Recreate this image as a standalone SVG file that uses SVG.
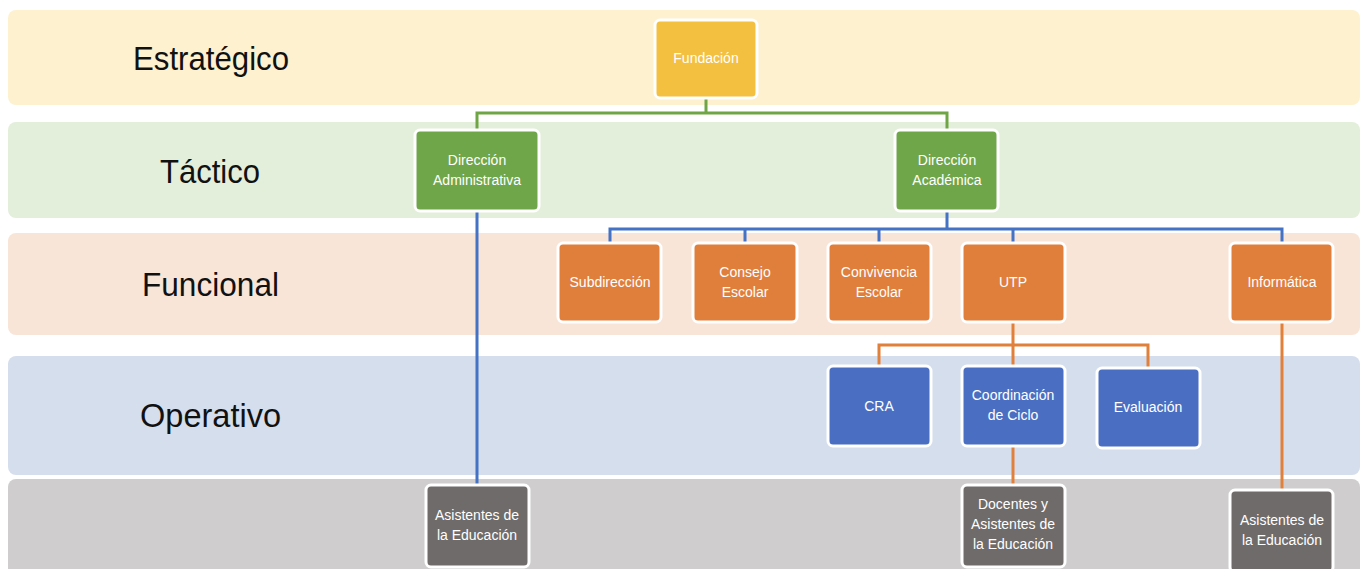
<svg xmlns="http://www.w3.org/2000/svg" width="1368" height="569" viewBox="0 0 1368 569">
<style>
.band{stroke:none}
.lvl{font-family:"Liberation Sans",Arial,sans-serif;font-size:33px;fill:#111}
.box{stroke:#fff;stroke-width:3}
.t{font-family:"Liberation Sans",Arial,sans-serif;font-size:14px;fill:#fff;text-anchor:middle}
.c{fill:none;stroke-width:3}
</style>
<rect width="1368" height="569" fill="#fff"/>
<g id="bands">
<rect class="band" x="8" y="10" width="1352" height="95" rx="8" fill="#FDF1D0"/>
<rect class="band" x="8" y="122" width="1352" height="96" rx="8" fill="#E3EEDB"/>
<rect class="band" x="8" y="233" width="1352" height="102" rx="8" fill="#F8E5D8"/>
<rect class="band" x="8" y="356" width="1352" height="119" rx="8" fill="#D5DEEC"/>
<rect class="band" x="8" y="479" width="1352" height="100" rx="8" fill="#CFCDCD"/>
<text class="lvl" x="133" y="70" textLength="156" lengthAdjust="spacingAndGlyphs">Estratégico</text>
<text class="lvl" x="160" y="183" textLength="100" lengthAdjust="spacingAndGlyphs">Táctico</text>
<text class="lvl" x="142" y="296" textLength="137" lengthAdjust="spacingAndGlyphs">Funcional</text>
<text class="lvl" x="140" y="427" textLength="141" lengthAdjust="spacingAndGlyphs">Operativo</text>
</g>
<g id="connectors">
<path class="c" stroke="#6FA544" d="M706 98V113M477 130V113H947V130"/>
<path class="c" stroke="#4472C4" d="M947 211V229M610 243V229H1282V243M745 229V243M879 229V243M1013 229V243"/>
<path class="c" stroke="#4472C4" d="M477 211V485"/>
<path class="c" stroke="#E0803A" d="M1013 322V345M879 366V345H1148V368M1013 345V366"/>
<path class="c" stroke="#E0803A" d="M1013 446V485"/>
<path class="c" stroke="#E0803A" d="M1282 322V490"/>
</g>
<g id="fundacion"><rect class="box" x="655" y="20" width="102" height="78" rx="5" fill="#F3C03F"/><text class="t" x="706" y="63">Fundación</text></g>
<g id="dir-admin"><rect class="box" x="415" y="130" width="124" height="81" rx="5" fill="#70A64A"/><text class="t" x="477" y="165">Dirección</text><text class="t" x="477" y="185">Administrativa</text></g>
<g id="dir-acad"><rect class="box" x="895" y="130" width="103" height="81" rx="5" fill="#70A64A"/><text class="t" x="947" y="165">Dirección</text><text class="t" x="947" y="185">Académica</text></g>
<g id="subdireccion"><rect class="box" x="558" y="243" width="103" height="79" rx="5" fill="#E07E3C"/><text class="t" x="610" y="287">Subdirección</text></g>
<g id="consejo"><rect class="box" x="693" y="243" width="104" height="79" rx="5" fill="#E07E3C"/><text class="t" x="745" y="277">Consejo</text><text class="t" x="745" y="297">Escolar</text></g>
<g id="convivencia"><rect class="box" x="828" y="243" width="103" height="79" rx="5" fill="#E07E3C"/><text class="t" x="879" y="277">Convivencia</text><text class="t" x="879" y="297">Escolar</text></g>
<g id="utp"><rect class="box" x="962" y="243" width="103" height="79" rx="5" fill="#E07E3C"/><text class="t" x="1013" y="287">UTP</text></g>
<g id="informatica"><rect class="box" x="1230" y="243" width="103" height="79" rx="5" fill="#E07E3C"/><text class="t" x="1282" y="287">Informática</text></g>
<g id="cra"><rect class="box" x="828" y="366" width="103" height="80" rx="5" fill="#4A6FC2"/><text class="t" x="879" y="411">CRA</text></g>
<g id="coordinacion"><rect class="box" x="962" y="366" width="103" height="80" rx="5" fill="#4A6FC2"/><text class="t" x="1013" y="400">Coordinación</text><text class="t" x="1013" y="420">de Ciclo</text></g>
<g id="evaluacion"><rect class="box" x="1097" y="368" width="103" height="80" rx="5" fill="#4A6FC2"/><text class="t" x="1148" y="412">Evaluación</text></g>
<g id="asistentes-1"><rect class="box" x="426" y="485" width="103" height="82" rx="5" fill="#6F6B6A"/><text class="t" x="477" y="520">Asistentes de</text><text class="t" x="477" y="540">la Educación</text></g>
<g id="docentes"><rect class="box" x="962" y="485" width="103" height="82" rx="5" fill="#6F6B6A"/><text class="t" x="1013" y="509">Docentes y</text><text class="t" x="1013" y="529">Asistentes de</text><text class="t" x="1013" y="549">la Educación</text></g>
<g id="asistentes-2"><rect class="box" x="1230" y="490" width="103" height="82" rx="5" fill="#6F6B6A"/><text class="t" x="1282" y="525">Asistentes de</text><text class="t" x="1282" y="545">la Educación</text></g>
</svg>
